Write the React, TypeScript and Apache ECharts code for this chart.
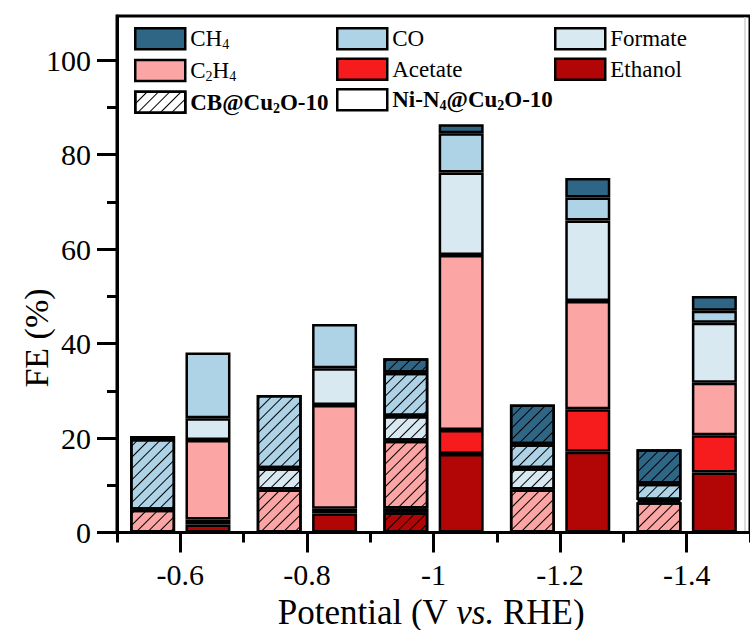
import React, { useEffect, useRef } from 'react';
import * as echarts from 'echarts';

const FONT = 'Liberation Serif';

const categories = ['-0.6', '-0.8', '-1', '-1.2', '-1.4'];
// bottom -> top stacking order
const products = ['Ethanol', 'Acetate', 'C2H4', 'Formate', 'CO', 'CH4'];
const productColors = ['#b20606', '#f61b1c', '#fca5a5', '#d9e9f2', '#aed3e6', '#2f6585'];

// CB@Cu2O-10 (hatched)
const cbEthanol = [0, 0, 4.3, 0, 0];
const cbAcetate = [0, 0, 0.8, 0, 0];
const cbC2H4 = [4.8, 9.1, 14.3, 9.1, 6.4];
const cbFormate = [0, 4.5, 5.25, 4.5, 0.5];
const cbCO = [15.0, 15.5, 9.15, 5.1, 3.4];
const cbCH4 = [0.6, 0, 3.1, 8.4, 7.3];

// Ni-N4@Cu2O-10 (plain)
const niEthanol = [1.7, 4.0, 16.6, 17.1, 12.7];
const niAcetate = [1.05, 1.0, 5.1, 9.0, 7.9];
const niC2H4 = [16.85, 22.0, 37.0, 22.9, 11.1];
const niFormate = [4.6, 7.75, 17.5, 17.0, 12.7];
const niCO = [13.9, 9.35, 8.3, 4.9, 2.5];
const niCH4 = [0, 0, 1.9, 4.1, 3.15];

const cbSets = [cbEthanol, cbAcetate, cbC2H4, cbFormate, cbCO, cbCH4];
const niSets = [niEthanol, niAcetate, niC2H4, niFormate, niCO, niCH4];

const catalystCB = 'CB@Cu2O-10';
const catalystNi = 'Ni-N4@Cu2O-10';

const legendLabels: Record<string, string> = {
  CH4: '{a|CH}{s|4}',
  CO: '{a|CO}',
  Formate: '{a|Formate}',
  C2H4: '{a|C}{s|2}{a|H}{s|4}',
  Acetate: '{a|Acetate}',
  Ethanol: '{a|Ethanol}',
  'CB@Cu2O-10': '{b|CB@Cu}{bs|2}{b|O-10}',
  'Ni-N4@Cu2O-10': '{b|Ni-N}{bs|4}{b|@Cu}{bs|2}{b|O-10}',
};

const hatch = {
  symbol: 'rect',
  symbolSize: 1,
  color: '#000',
  dashArrayX: [1, 0],
  dashArrayY: [1, 7],
  rotation: -Math.PI / 4,
};

// zero-height segments are simply absent
const toBar = (arr: number[]) => arr.map((v) => (v === 0 ? '-' : v));

export default function App() {
  const ref = useRef<HTMLDivElement>(null);
  useEffect(() => {
    document.body.style.margin = '0';
    if (!ref.current) return;
    const chart = echarts.init(ref.current, null, { renderer: 'svg' });
    const border = { borderColor: '#000', borderWidth: 2.5 };
    const series: any[] = [];
    products.forEach((p, i) => {
      series.push({
        type: 'bar',
        name: catalystCB + ' ' + p,
        stack: 'cb',
        xAxisIndex: 0,
        yAxisIndex: 0,
        data: toBar(cbSets[i]),
        barWidth: 45,
        barGap: '23%',
        itemStyle: { color: productColors[i], ...border, decal: hatch },
      });
    });
    products.forEach((p, i) => {
      series.push({
        type: 'bar',
        name: p,
        stack: 'ni',
        xAxisIndex: 0,
        yAxisIndex: 0,
        data: toBar(niSets[i]),
        barWidth: 45,
        barGap: '23%',
        itemStyle: { color: productColors[i], ...border },
      });
    });
    series.push({
      type: 'bar', name: catalystCB, xAxisIndex: 1, yAxisIndex: 0, data: [],
      itemStyle: { color: '#fff', ...border, decal: hatch },
    });
    series.push({
      type: 'bar', name: catalystNi, xAxisIndex: 1, yAxisIndex: 0, data: [],
      itemStyle: { color: '#fff', ...border },
    });

    const rich = {
      a: { fontSize: 23, fontFamily: FONT, color: '#000', lineHeight: 26 },
      s: { fontSize: 14, fontFamily: FONT, color: '#000', lineHeight: 12, verticalAlign: 'bottom' },
      b: { fontSize: 23, fontFamily: FONT, color: '#000', fontWeight: 'bold', lineHeight: 26 },
      bs: { fontSize: 14, fontFamily: FONT, color: '#000', fontWeight: 'bold', lineHeight: 12, verticalAlign: 'bottom' },
    };
    const legendCommon = {
      orient: 'vertical',
      itemWidth: 50,
      itemHeight: 21,
      itemGap: 7,
      padding: 0,
      top: 27,
      selectedMode: false,
      icon: 'rect',
      itemStyle: { borderColor: '#000', borderWidth: 2.5 },
      textStyle: { fontFamily: FONT, fontSize: 23, color: '#000', rich },
      formatter: (n: string) => legendLabels[n] || n,
    };

    const option: any = {
      animation: false,
      backgroundColor: '#fff',
      textStyle: { fontFamily: FONT },
      grid: [
        { left: 117, top: 16, width: 635, height: 516.5, show: true, borderColor: '#000', borderWidth: 3, backgroundColor: 'transparent' },
        { left: 117, top: 60, width: 635, height: 472.5, show: false },
      ],
      legend: [
        { ...legendCommon, left: 134, data: ['CH4', 'C2H4', catalystCB] },
        { ...legendCommon, left: 336, data: ['CO', 'Acetate', catalystNi] },
        { ...legendCommon, left: 554, data: ['Formate', 'Ethanol'] },
      ],
      xAxis: [
        {
          type: 'category', gridIndex: 0, position: 'bottom', data: categories,
          axisLine: { show: true, lineStyle: { color: '#000', width: 3 } },
          axisTick: { show: true, alignWithLabel: true, length: 20, lineStyle: { color: '#000', width: 3 } },
          axisLabel: { show: true, margin: 27, fontSize: 30, lineHeight: 30, fontFamily: FONT, color: '#000' },
          splitLine: { show: false },
        },
        {
          type: 'category', gridIndex: 0, position: 'bottom', data: categories,
          axisLine: { show: false },
          axisTick: { show: true, alignWithLabel: false, length: 10, lineStyle: { color: '#000', width: 3 } },
          axisLabel: { show: false },
          splitLine: { show: false },
        },
        { type: 'category', gridIndex: 1, data: categories, show: false },
      ],
      yAxis: [
        {
          type: 'value', gridIndex: 0, min: 0, max: 109.3,
          axisLine: { show: true, lineStyle: { color: '#000', width: 3 } },
          axisTick: { show: false },
          axisLabel: { show: false },
          splitLine: { show: false },
        },
        {
          type: 'value', gridIndex: 1, min: 0, max: 100, interval: 20,
          axisLine: { show: false },
          axisTick: { show: true, length: 20, lineStyle: { color: '#000', width: 3 } },
          minorTick: { show: true, splitNumber: 2, length: 10, lineStyle: { color: '#000', width: 3 } },
          axisLabel: { show: true, margin: 26, fontSize: 30, fontFamily: FONT, color: '#000' },
          splitLine: { show: false },
          minorSplitLine: { show: false },
        },
      ],
      series,
      graphic: [
        {
          type: 'line',
          shape: { x1: 745, y1: 17, x2: 745, y2: 531 },
          style: { stroke: '#cfcfcf', lineWidth: 1.5 },
          silent: true,
        },
        {
          type: 'text',
          x: 36,
          y: 338,
          rotation: Math.PI / 2,
          style: { text: 'FE (%)', fontSize: 34, fontFamily: FONT, fill: '#000', align: 'center', verticalAlign: 'middle' },
        },
        {
          type: 'text',
          x: 431,
          y: 612,
          style: {
            text: '{a|Potential (V }{i|vs.}{a| RHE)}',
            align: 'center',
            verticalAlign: 'middle',
            fill: '#000',
            rich: {
              a: { fontSize: 35, fontFamily: FONT, fill: '#000', lineHeight: 34 },
              i: { fontSize: 35, fontFamily: FONT, fontStyle: 'italic', fill: '#000', lineHeight: 34 },
            },
          },
        },
      ],
    };
    chart.setOption(option);
    return () => chart.dispose();
  }, []);
  return <div ref={ref} style={{ width: 750, height: 630 }} />;
}
